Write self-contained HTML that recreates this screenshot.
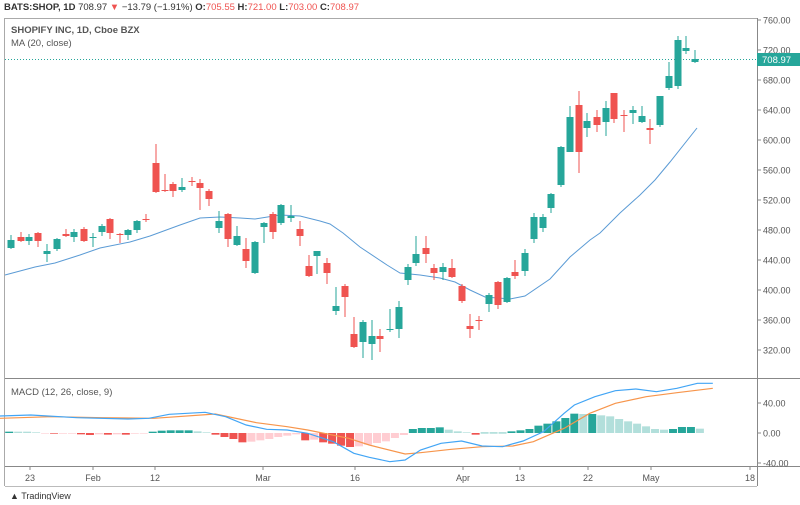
<!DOCTYPE html>
<html><head><meta charset="utf-8"><style>
body{margin:0;background:#fff;width:800px;height:500px;overflow:hidden;font-family:"Liberation Sans",sans-serif}
svg text{font-family:"Liberation Sans",sans-serif}
</style></head><body>
<svg id="s" width="800" height="500" xmlns="http://www.w3.org/2000/svg">
<rect width="800" height="500" fill="#fff"/>
<text x="4" y="10" font-size="9.5" fill="#333"><tspan font-weight="bold">BATS:SHOP, 1D</tspan> 708.97 <tspan fill="#ef5350">▼</tspan> −13.79 (−1.91%) <tspan font-weight="bold">O:</tspan><tspan fill="#ef5350">705.55</tspan> <tspan font-weight="bold">H:</tspan><tspan fill="#ef5350">721.00</tspan> <tspan font-weight="bold">L:</tspan><tspan fill="#ef5350">703.00</tspan> <tspan font-weight="bold">C:</tspan><tspan fill="#ef5350">708.97</tspan></text>
<line x1="5" y1="18.5" x2="757" y2="18.5" stroke="#aaa"/>
<line x1="4.5" y1="18" x2="4.5" y2="486" stroke="#aaa"/>
<line x1="757.5" y1="18" x2="757.5" y2="486" stroke="#888"/>
<line x1="5" y1="378.5" x2="800" y2="378.5" stroke="#888"/>
<line x1="5" y1="466.5" x2="800" y2="466.5" stroke="#888"/>
<line x1="5" y1="486.5" x2="757" y2="486.5" stroke="#bbb"/>
<text x="11" y="33" font-size="9.5" fill="#555" font-weight="bold">SHOPIFY INC, 1D, Cboe BZX</text>
<text x="11" y="46" font-size="9.5" fill="#555">MA (20, close)</text>
<text x="11" y="395" font-size="9.5" fill="#555">MACD (12, 26, close, 9)</text>
<line x1="5" y1="59.5" x2="757" y2="59.5" stroke="#26a69a" stroke-dasharray="1,2"/>
<g id="g"></g>
<rect x="757" y="53" width="43" height="13" fill="#26a69a"/>
<text x="762" y="63" font-size="9.5" fill="#fff">708.97</text>
<text x="10" y="499" font-size="9" fill="#333">▲ TradingView</text>
</svg>
<script>
var g=document.getElementById('g'),NS='http://www.w3.org/2000/svg';
function el(t,a,txt){var e=document.createElementNS(NS,t);for(var k in a)e.setAttribute(k,a[k]);if(txt)e.textContent=txt;g.appendChild(e);return e;}
// price axis
for(var p=320;p<=760;p+=40){var y=20+(760-p)*0.75;el('line',{x1:757,x2:761,y1:y,y2:y,stroke:'#888'});if(p!=720||1)el('text',{x:763,y:y+3.5,'font-size':9,fill:'#555'},p.toFixed(2));}
[[40,403],[0,433],[-40,463]].forEach(function(a){el('line',{x1:757,x2:761,y1:a[1],y2:a[1],stroke:'#888'});el('text',{x:763,y:a[1]+3.5,'font-size':9,fill:'#555'},a[0].toFixed(2));});
[['23',30],['Feb',93],['12',155],['Mar',263],['16',355],['Apr',463],['13',520],['22',588],['May',651],['18',750]].forEach(function(a){el('line',{x1:a[1],x2:a[1],y1:467,y2:470,stroke:'#888'});el('text',{x:a[1],y:481,'font-size':9,fill:'#555','text-anchor':'middle'},a[0]);});
// MA
function pl(pts,c,w){el('polyline',{points:pts.map(function(p){return p.join(',')}).join(' '),fill:'none',stroke:c,'stroke-width':w||1});}
pl([[5,275],[35,267],[55,263],[80,255],[100,248],[130,242],[150,236],[180,225],[200,218],[220,217],[240,218],[255,219],[280,215],[300,216],[320,221],[330,224],[343,233],[360,247],[387,265],[400,273],[420,275],[440,278],[455,282],[470,290],[485,297],[510,299],[525,296],[550,279],[570,257],[590,240],[600,233],[620,213],[640,195],[655,180],[670,162],[697,128]],'#5b9bd5',1);
// candles
var G='#26a69a',R='#ef5350';
var C=[[11,240,248,235,249,G],[21,237,241,232,242,R],[29,237,241,234,245,G],[38,233,241,232,247,R],[47,251,254,244,262,G],[57,239,249,238,251,G],[66,234,236,229,237,R],[74,232,237,229,242,G],[84,229,241,227,242,R],[93,237,238,233,247,G],[102,226,232,224,236,G],[110,219,233,218,239,R],[120,234,235,233,243,R],[128,230,235,229,240,G],[137,221,230,220,233,G],[146,219,220,214,222,R],[156,163,192,144,193,R],[165,190,191,174,192,R],[173,184,191,182,197,R],[182,187,190,178,192,G],[192,181,182,177,186,R],[200,183,188,179,210,R],[209,191,199,189,206,R],[219,221,228,211,233,G],[228,214,239,213,247,R],[237,236,245,226,246,G],[246,249,261,238,268,R],[255,242,273,241,274,G],[264,223,227,222,243,G],[273,214,232,212,239,R],[281,205,223,204,225,G],[291,216,218,205,222,G],[300,229,236,221,246,R],[309,266,276,255,277,R],[317,251,256,251,274,G],[327,263,273,258,284,R],[336,306,311,287,315,G],[345,286,297,284,317,R],[354,334,347,317,348,R],[363,322,342,320,358,G],[372,336,344,320,360,G],[380,336,339,329,352,R],[390,329,330,309,332,G],[399,307,329,301,338,G],[408,267,280,264,285,G],[416,254,263,236,266,G],[426,248,254,236,263,R],[434,268,273,264,280,R],[443,267,272,263,280,G],[452,268,277,259,278,R],[462,286,301,284,303,R],[470,326,329,314,338,R],[479,320,320.8,316,330,R],[489,295,304,293,312,G],[498,282,305,281,309,R],[507,278,302,277,303,G],[515,272,276,260,279,R],[525,253,271,249,276,G],[534,217,239,213,243,G],[543,217,228,214,232,G],[551,194,208,193,213,G],[561,147,185,146,187,G],[570,117,152,106,152,G],[579,105,152,91,173,R],[587,121,128,113,137,G],[597,117,125,110,132,R],[606,108,122,101,136,G],[614,93,119,93,123,R],[624,115,116,110,132,R],[633,110,113,106,124,G],[642,116,122,106,123,G],[650,128,130,119,144,R],[660,96,125,96,127,G],[669,76,88,62,90,G],[678,40,86,36,89,G],[686,48,51,36,54,G],[695,59,62,50,63,G]];
C.forEach(function(c){el('line',{x1:c[0],x2:c[0],y1:c[3],y2:c[4],stroke:c[5],'stroke-width':1});el('rect',{x:c[0]-3.5,y:c[1],width:7,height:Math.max(1,c[2]-c[1]),fill:c[5]});});
// histogram
var H=[[4,0],[4,1],[4,1],[2,1],[-1,1],[-2,0],[-2,1],[-2,1],[-4,0],[-6,0],[-4,1],[-5,0],[-4,1],[-5,0],[-2,1],[-1,1],[4,0],[7,0],[8,0],[8,0],[8,0],[5,1],[2,1],[-5,0],[-12,0],[-18,0],[-28,0],[-26,1],[-22,1],[-18,1],[-12,1],[-8,1],[-4,1],[-22,0],[-20,1],[-28,0],[-32,0],[-38,0],[-42,0],[-40,1],[-35,1],[-30,1],[-25,1],[-15,1],[-6,1],[12,0],[15,0],[15,0],[17,0],[10,1],[5,1],[2,1],[-5,0],[1,0],[1,0],[1,0],[5,0],[8,0],[12,0],[22,0],[28,0],[35,0],[45,0],[58,0],[57,1],[57,0],[53,1],[50,1],[42,1],[35,1],[28,1],[20,1],[12,1],[10,1],[12,0],[18,0],[18,0],[13,1]];
H.forEach(function(h,i){var x=9.2+i*8.97,v=h[0]/3,up=v>=0;var col=up?(h[1]?'#b2dfdb':'#26a69a'):(h[1]?'#ffcdd2':'#ef5350');el('rect',{x:x-4,y:up?433-v:433,width:8,height:Math.max(0.6,Math.abs(v)),fill:col});});
function z(a){return a.map(function(p){return [p[0]/1.95,370+p[1]/3]});}
pl(z([[0,145],[100,140],[200,143],[300,145],[420,132],[500,158],[560,170],[600,180],[680,205],[720,225],[790,252],[820,248],[880,238],[940,230],[1000,228],[1040,215],[1100,175],[1150,130],[1200,100],[1260,80],[1320,68],[1390,55]]),'#f7954b',1.2);
pl(z([[0,138],[60,135],[150,143],[250,147],[290,145],[330,133],[400,127],[440,140],[480,165],[520,178],[560,180],[600,190],[650,215],[690,250],[720,262],[760,275],[790,270],[820,240],[860,220],[900,213],[940,228],[980,230],[1020,213],[1060,185],[1100,130],[1120,105],[1160,80],[1200,62],[1240,57],[1280,65],[1320,55],[1360,40],[1390,40]]),'#42a5f5',1.2);
</script>
</body></html>
